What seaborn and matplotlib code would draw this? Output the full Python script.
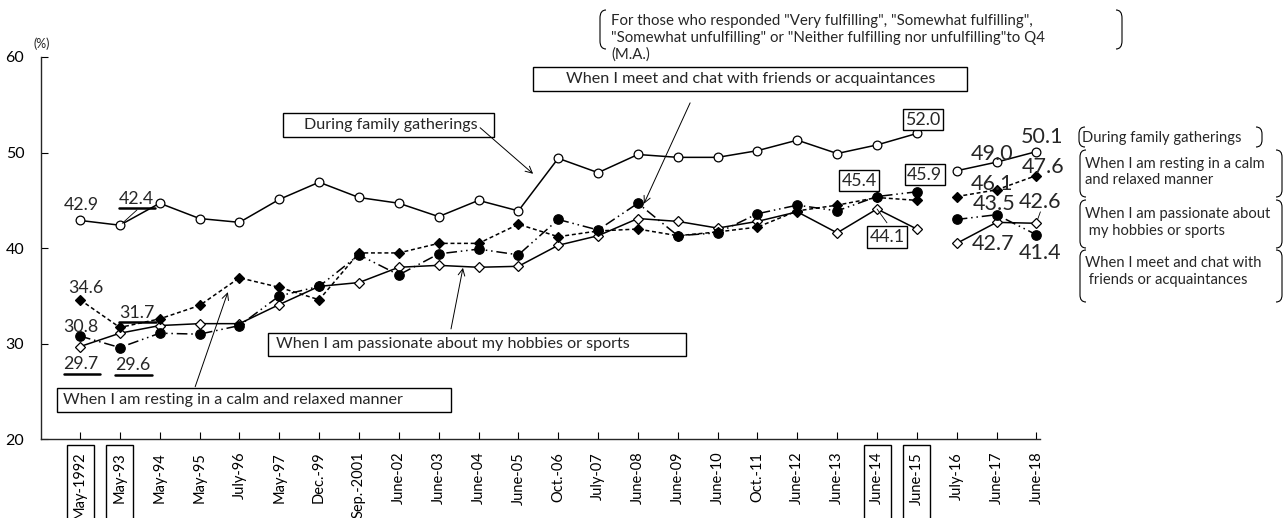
import numpy as np
import pandas as pd
import matplotlib
matplotlib.use("Agg")
import matplotlib.pyplot as plt
import seaborn as sns
from matplotlib.path import Path
from matplotlib.patches import PathPatch, Rectangle
from matplotlib.lines import Line2D
from matplotlib.transforms import Affine2D, IdentityTransform

# ---------------- data ----------------
categories = ["May-1992", "May-93", "May-94", "May-95", "July-96", "May-97", "Dec.-99",
              "Sep.-2001", "June-02", "June-03", "June-04", "June-05", "Oct.-06", "July-07",
              "June-08", "June-09", "June-10", "Oct.-11", "June-12", "June-13", "June-14",
              "June-15", "July-16", "June-17", "June-18"]
family = [42.9, 42.4, 44.7, 43.1, 42.7, 45.1, 46.9, 45.3, 44.7, 43.3, 45.0, 43.9, 49.4,
          47.9, 49.8, 49.5, 49.5, 50.2, 51.3, 49.9, 50.8, 52.0, 48.1, 49.0, 50.1]
resting = [34.6, 31.7, 32.6, 34.0, 36.9, 35.9, 34.6, 39.5, 39.5, 40.5, 40.5, 42.5, 41.2,
           41.8, 42.0, 41.3, 41.7, 42.2, 43.9, 44.5, 45.3, 45.0, 45.4, 46.1, 47.6]
hobbies = [29.7, 31.1, 31.9, 32.1, 32.1, 34.1, 36.0, 36.4, 38.0, 38.2, 38.0, 38.1, 40.3,
           41.3, 43.1, 42.8, 42.1, 42.8, 43.8, 41.6, 44.1, 42.0, 40.5, 42.7, 42.6]
friends = [30.8, 29.6, 31.1, 31.0, 31.9, 35.0, 36.0, 39.3, 37.2, 39.4, 39.9, 39.3, 43.0,
           41.9, 44.7, 41.3, 41.6, 43.6, 44.5, 43.9, 45.4, 45.9, 43.0, 43.5, 41.4]
segment = [0] * 22 + [1] * 3      # survey method change after June-15
boxed_ticks = ["May-1992", "May-93", "June-14", "June-15"]

# ---------------- style ----------------
sns.set_theme(style="ticks")
FONT = ["Lato", "DejaVu Sans"]
plt.rcParams["font.family"] = FONT
plt.rcParams["axes.linewidth"] = 1.0

W, H = 1284, 518
fig = plt.figure(figsize=(W / 100, H / 100), dpi=100)
fig.patch.set_facecolor("white")
ax = fig.add_axes([41 / W, 1 - 439.3 / H, (1040 - 41) / W, (439.3 - 57) / H])
ax.set_facecolor("white")

pos = np.arange(len(categories))
series = [
    (hobbies, "-", "D", 4.6, "white"),
    (resting, (0, (2.6, 1.8)), "D", 4.6, "black"),
    (friends, (0, (7, 2.5, 1, 2.5, 1, 2.5)), "o", 6.8, "black"),
    (family, "-", "o", 6.3, "white"),
]
for vals, ls, mk, ms, fc in series:
    df = pd.DataFrame({"pos": pos, "value": vals, "seg": segment})
    sns.lineplot(data=df, x="pos", y="value", units="seg", estimator=None, ax=ax,
                 color="black", linewidth=1.1, linestyle=ls, marker=mk, markersize=ms,
                 markerfacecolor=fc, markeredgecolor="black", markeredgewidth=0.9,
                 legend=False, clip_on=False)

ax.set_xlim(-0.979, 24.09)
ax.set_ylim(20, 60)
ax.set_yticks([20, 30, 40, 50, 60])
ax.set_xticks(pos)
ax.set_xticklabels(categories, rotation=90, fontsize=10.5)
ax.tick_params(axis="x", direction="in", length=5, width=0.8, pad=9, colors="black")
ax.tick_params(axis="y", direction="in", length=5, width=0.8, pad=12, labelsize=11.5,
               colors="black")
ax.set_xlabel("")
ax.set_ylabel("")
sns.despine(ax=ax)
ax.text(-0.95, 61.4, "(%)", fontsize=9, ha="center", va="center")

# ---------------- data labels ----------------
plain_left = [("42.9", 0.04, 44.54), ("42.4", 1.41, 45.16), ("34.6", 0.15, 35.86),
              ("31.7", 1.43, 33.23), ("30.8", 0.03, 31.76), ("29.7", 0.03, 27.85),
              ("29.6", 1.33, 27.75)]
underlined = {"42.4", "31.7", "29.7", "29.6"}
under_texts = []
for s, x, y in plain_left:
    t = ax.text(x, y, s, fontsize=12.8, ha="center", va="center")
    if s in underlined:
        under_texts.append(t)

for s, x, y in [("52.0", 21.15, 53.43), ("45.4", 19.55, 47.05), ("45.9", 21.2, 47.7),
                ("44.1", 20.25, 41.18)]:
    ax.text(x, y, s, fontsize=12.8, ha="center", va="center",
            bbox=dict(boxstyle="square,pad=0.15", fc="white", ec="black", lw=1))

for s, x, y in [("49.0", 22.89, 49.87), ("50.1", 24.14, 51.65), ("47.6", 24.17, 48.5),
                ("46.1", 22.89, 46.74), ("43.5", 22.94, 44.64), ("42.6", 24.09, 44.85),
                ("42.7", 22.91, 40.45), ("41.4", 24.09, 39.5)]:
    ax.text(x, y, s, fontsize=15.5, ha="center", va="center")

# leader lines
ax.add_line(Line2D([1.43, 1.06], [44.0, 42.6], color="black", lw=0.6))
ax.add_line(Line2D([20.0, 20.25], [44.1, 42.65], color="black", lw=0.6))
ax.add_line(Line2D([24.1, 24.03], [43.8, 43.0], color="black", lw=0.6, clip_on=False))

# ---------------- series annotation boxes ----------------
boxes = [
    ("During family gatherings", (5.09, 10.39), (51.65, 54.16), 5.62, 52.91,
     (10.04, 52.6), (11.37, 47.78)),
    ("When I meet and chat with friends or acquaintances", (11.37, 22.26), (56.47, 58.98),
     12.20, 57.73, (15.31, 55.2), (14.15, 44.64)),
    ("When I am passionate about my hobbies or sports", (4.72, 15.21), (28.72, 31.13),
     4.92, 29.93, (9.31, 31.55), (9.61, 37.94)),
    ("When I am resting in a calm and relaxed manner", (-0.58, 9.31), (22.86, 25.37),
     -0.43, 24.11, (2.89, 25.5), (3.71, 35.4)),
]
for txt, (x0, x1), (y0, y1), tx, ty, a0, a1 in boxes:
    ax.add_patch(Rectangle((x0, y0), x1 - x0, y1 - y0, fc="white", ec="black", lw=1,
                           clip_on=False, zorder=3))
    ax.text(tx, ty, txt, fontsize=11.6, ha="left", va="center", zorder=4)
    ax.annotate("", xy=a1, xytext=a0,
                arrowprops=dict(arrowstyle="->", color="black", lw=0.7,
                                shrinkA=0, shrinkB=0, mutation_scale=12))

# ---------------- outside texts with brackets ----------------
pix = Affine2D().scale(1 / W, -1 / H).translate(0, 1) + fig.transFigure


def bracket(x, y0, y1, w, r):
    verts = [(x + w, y0), (x, y0), (x, y0 + r), (x, y1 - r), (x, y1), (x + w, y1)]
    codes = [Path.MOVETO, Path.CURVE3, Path.CURVE3, Path.LINETO, Path.CURVE3, Path.CURVE3]
    fig.add_artist(PathPatch(Path(verts, codes), fc="none", ec="black", lw=0.8,
                             transform=pix))


fig.text(611 / W, 1 - 14 / H,
         "For those who responded \"Very fulfilling\", \"Somewhat fulfilling\",\n"
         "\"Somewhat unfulfilling\" or \"Neither fulfilling nor unfulfilling\"to Q4\n(M.A.)",
         fontsize=10.8, ha="left", va="top", linespacing=1.25)
bracket(600, 10, 49, 6, 8)
bracket(1122, 10, 49, -6, 8)

legend_items = [
    ("During family gatherings", 1082, 138, 127, 147, 1079, 1262),
    ("When I am resting in a calm\nand relaxed manner", 1085, 172, 150, 197, 1080, 1282),
    ("When I am passionate about\n my hobbies or sports", 1085, 222.5, 200, 248, 1080, 1282),
    ("When I meet and chat with\n friends or acquaintances", 1085, 271.5, 250, 302, 1080, 1282),
]
for txt, tx, ty, y0, y1, xl, xr in legend_items:
    fig.text(tx / W, 1 - ty / H, txt, fontsize=10.6, ha="left", va="center",
             linespacing=1.25)
    bracket(xl, y0, y1, 6, 7)
    bracket(xr, y0, y1, -6, 7)

# ---------------- decorations needing rendered extents ----------------
fig.canvas.draw()
renderer = fig.canvas.get_renderer()
for t in under_texts:
    bb = t.get_window_extent(renderer)
    fig.add_artist(Line2D([bb.x0, bb.x1 + 1], [bb.y0 - 1.5, bb.y0 - 1.5], color="black",
                          lw=1.8, transform=IdentityTransform()))
for lab in ax.get_xticklabels():
    if lab.get_text() in boxed_ticks:
        bb = lab.get_window_extent(renderer)
        fig.add_artist(Rectangle((bb.x0 - 6.5, -5), bb.width + 13, bb.y1 + 12,
                                 fc="none", ec="black", lw=1,
                                 transform=IdentityTransform()))

fig.savefig("out.png", dpi=100, facecolor="white")
